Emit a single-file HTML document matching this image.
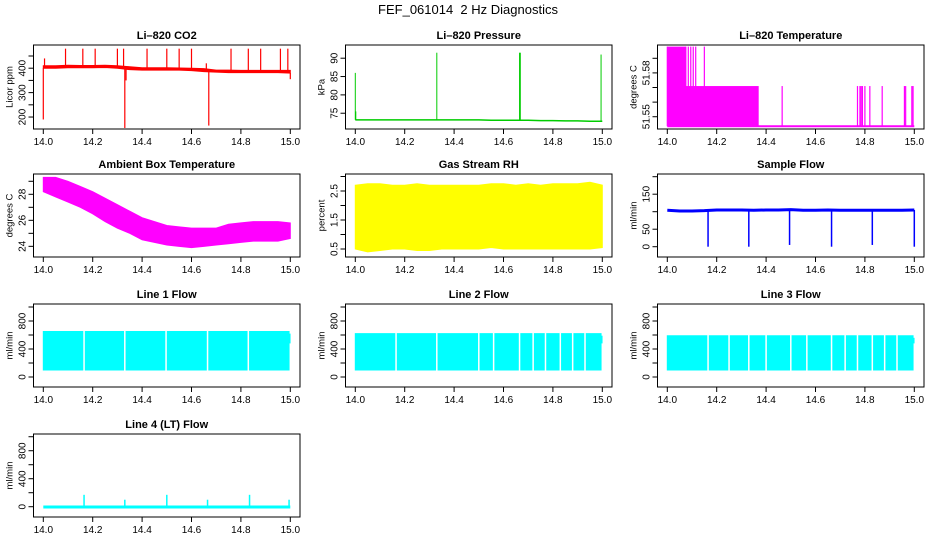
<!DOCTYPE html>
<html><head><meta charset="utf-8"><style>
html,body{margin:0;padding:0;background:#fff;}
svg{display:block;font-family:"Liberation Sans",sans-serif;}
</style></head><body>
<svg id="c" width="936" height="540" viewBox="0 0 936 540">
<text x="468" y="14" text-anchor="middle" font-size="13">FEF_061014&#160; 2 Hz Diagnostics</text>
</svg>
<script>
// ---- shared x data ----
const xTicks=[14.0,14.2,14.4,14.6,14.8,15.0];
const xTickLabels=['14.0','14.2','14.4','14.6','14.8','15.0'];
const envT=[14.0,14.05,14.1,14.15,14.2,14.25,14.3,14.35,14.4,14.45,14.5,14.55,14.6,14.65,14.7,14.75,14.8,14.85,14.9,14.95,15.0];
// ---- CO2 ----
const co2Upper=[410,410,412,411,411,412,410,406,402,402,402,401,400,398,392,392,391,391,391,391,391];
const co2Lower=[400,400,402,402,402,403,400,394,392,392,392,392,390,386,384,382,382,382,382,382,380];
const co2SpikeT=[14.0,14.005,14.09,14.16,14.21,14.3,14.325,14.33,14.335,14.42,14.5,14.55,14.6,14.66,14.67,14.76,14.83,14.88,14.96,14.99,15.0];
const co2SpikeV=[190,440,480,480,480,480,480,155,350,480,480,480,480,420,165,480,480,480,480,480,355];
// ---- Pressure ----
const presLevel=[73.2,73.2,73.2,73.2,73.2,73.2,73.2,73.2,73.2,73.2,73.2,73.1,73.1,73.1,73.1,73.0,73.0,72.9,72.9,72.8,72.8];
const presSpikeT=[14.0,14.002,14.33,14.665,14.668,14.995];
const presSpikeV=[86,75.5,91.5,91.5,91.5,91];
// ---- Li-820 temperature ----
const tempLevels=[51.5435,51.571,51.598];
const tempHiT=[14.0,14.075,14.085,14.095,14.105,14.115,14.15];
const tempMidT=[14.465,14.77,14.78,14.785,14.79,14.8,14.82,14.87,14.96,14.965,14.99,14.995];
const tempBlockStart=14.0, tempBlockEnd=14.37, tempHiEnd=14.075;
// ---- Ambient ----
const ambUpper=[29.3,29.3,29.0,28.6,28.2,27.7,27.2,26.7,26.2,25.9,25.6,25.5,25.4,25.4,25.4,25.7,25.8,25.9,25.9,25.9,25.8];
const ambLower=[28.2,27.8,27.4,27.0,26.5,25.9,25.4,25.0,24.5,24.3,24.1,24.0,23.9,24.0,24.1,24.2,24.3,24.4,24.4,24.4,24.6];
// ---- RH ----
const rhUpper=[2.7,2.75,2.75,2.7,2.7,2.75,2.7,2.7,2.7,2.7,2.7,2.75,2.75,2.7,2.75,2.7,2.75,2.75,2.75,2.8,2.7];
const rhLower=[0.5,0.4,0.45,0.5,0.5,0.45,0.45,0.5,0.5,0.5,0.5,0.55,0.5,0.5,0.5,0.5,0.5,0.5,0.5,0.5,0.55];
// ---- Sample flow ----
const sampleLevel=[104,102,102,103,105,105,105,104,105,105,106,104,104,105,104,104,104,104,104,104,105];
const sampleDropT=[14.165,14.33,14.495,14.665,14.83,15.0];
const sampleDropV=[0,0,5,0,5,0];
// ---- Line flows ----
const line1Upper=650, line1Lower=100, line2Upper=620, line2Lower=100, line3Upper=590, line3Lower=100;
const line1Gaps=[14.165,14.33,14.497,14.665,14.83];
const line2Gaps=[14.165,14.33,14.5,14.56,14.665,14.72,14.77,14.83,14.88,14.93];
const line3Gaps=[14.165,14.25,14.33,14.4,14.5,14.565,14.665,14.72,14.77,14.83,14.88,14.93];
const line4Base=-5;
const line4SpikeT=[14.165,14.33,14.5,14.665,14.835,14.995];
const line4SpikeV=[170,100,170,100,170,100];

const NS='http://www.w3.org/2000/svg';
const svg=document.getElementById('c');
const colL=[33.5,345.5,657.5], boxW=266.5;
const rowTop=[45,174,304,434], rowH=[84,83,83,83];
function el(tag,attrs,parent){const e=document.createElementNS(NS,tag);for(const k in attrs)e.setAttribute(k,attrs[k]);(parent||svg).appendChild(e);return e;}

function panel(id,col,row,title,ylab,dom,ticks,labels){
  const L=colL[col],T=rowTop[row],H=rowH[row],B=T+H;
  const g=el('g',{});
  
  
  const x=t=>L+9.8+(t-14)*247;
  const y=v=>B-(v-dom[0])/(dom[1]-dom[0])*H;
  const cp=el('clipPath',{id:'cp'+id},g);
  el('rect',{x:L,y:T,width:boxW,height:H},cp);
  const plot=el('g',{'clip-path':'url(#cp'+id+')'},g);
  
  
  const box=el('rect',{x:L,y:T,width:boxW,height:H,fill:'none',stroke:'#000','stroke-width':1},g);
  
  
  const tt=el('text',{x:L+boxW/2,y:T-6,'text-anchor':'middle','font-size':11,'font-weight':'bold'},g);
  tt.textContent=title;
  
  
  const yl=el('text',{x:0,y:0,'text-anchor':'middle','font-size':9.5,transform:`translate(${L-21},${T+H/2}) rotate(-90)`},g);
  yl.textContent=ylab;
  
  
  xTicks.forEach((t,i)=>{
    el('line',{x1:x(t),x2:x(t),y1:B,y2:B+5,stroke:'#000'},g);
    const lb=el('text',{x:x(t),y:B+16,'text-anchor':'middle','font-size':10},g);
    lb.textContent=xTickLabels[i];
    
    
  });
  ticks.forEach((v,i)=>{
    el('line',{x1:L-5,x2:L,y1:y(v),y2:y(v),stroke:'#000'},g);
    if(labels[i]){
      const lb=el('text',{x:0,y:0,'text-anchor':'middle','font-size':10,transform:`translate(${L-8},${y(v)}) rotate(-90)`},g);
      lb.textContent=labels[i];
      
      
    }
  });
  return {x,y,plot};
}
function band(p,ts,up,lo,color,name){
  let d='M'+ts.map((t,i)=>p.x(t)+','+p.y(up[i])).join(' L');
  d+=' L'+ts.map((t,i)=>[t,i]).reverse().map(([t,i])=>p.x(t)+','+p.y(lo[i])).join(' L')+'Z';
  const e=el('path',{d,fill:color,stroke:color,'stroke-width':1},p.plot);
  
  
}
function vline(p,t,v1,v2,color,name,w){
  const e=el('line',{x1:p.x(t),x2:p.x(t),y1:p.y(v1),y2:p.y(v2),stroke:color,'stroke-width':w||1.2},p.plot);
  
  
}
function levelLine(p,ts,vs,color,name,w){
  const e=el('polyline',{points:ts.map((t,i)=>p.x(t)+','+p.y(vs[i])).join(' '),fill:'none',stroke:color,'stroke-width':w||1.5},p.plot);
  
  
}
function interp(ts,vs,t){for(let i=0;i<ts.length-1;i++){if(t<=ts[i+1]){const f=(t-ts[i])/(ts[i+1]-ts[i]);return vs[i]+f*(vs[i+1]-vs[i]);}}return vs[vs.length-1];}

let p=panel('co2',0,0,'Li\u2013820 CO2','Licor ppm',[151,495],[200,250,300,350,400,450],['200','','300','','400','']);
band(p,envT,co2Upper,co2Lower,'#ff0000','co2-series');
co2SpikeT.forEach((t,i)=>vline(p,t,interp(envT,co2Lower,t),co2SpikeV[i],'#ff0000','co2-spike'));

p=panel('pressure',1,0,'Li\u2013820 Pressure','kPa',[70.7,93.6],[75,80,85,90],['75','80','85','90']);
levelLine(p,envT,presLevel,'#00cc00','pressure-series',1.5);
presSpikeT.forEach((t,i)=>vline(p,t,interp(envT,presLevel,t),presSpikeV[i],'#00cc00','pressure-spike',1));

p=panel('li820temp',2,0,'Li\u2013820 Temperature','degrees C',[51.5416,51.5991],[51.55,51.56,51.57,51.58,51.59],['51.55','','','51.58','']);
levelLine(p,[14.0,15.0],[tempLevels[0],tempLevels[0]],'#ff00ff','temperature-baseline',2);
(function(){const r=el('rect',{x:p.x(tempBlockStart),y:p.y(tempLevels[1]),width:p.x(tempBlockEnd)-p.x(tempBlockStart),height:p.y(tempLevels[0])-p.y(tempLevels[1]),fill:'#ff00ff'},p.plot);


const r2=el('rect',{x:p.x(tempBlockStart),y:p.y(tempLevels[2]),width:p.x(tempHiEnd)-p.x(tempBlockStart),height:p.y(tempLevels[0])-p.y(tempLevels[2]),fill:'#ff00ff'},p.plot);

})();
tempHiT.forEach(t=>vline(p,t,tempLevels[0],tempLevels[2],'#ff00ff','temperature-high-spike'));
tempMidT.forEach(t=>vline(p,t,tempLevels[0],tempLevels[1],'#ff00ff','temperature-mid-spike'));

p=panel('ambient',0,1,'Ambient Box Temperature','degrees C',[23.18,29.56],[24,25,26,27,28,29],['24','','26','','28','']);
band(p,envT,ambUpper,ambLower,'#ff00ff','ambient-series');

p=panel('rh',1,1,'Gas Stream RH','percent',[0.224,3.086],[0.5,1,1.5,2,2.5,3],['0.5','','1.5','','2.5','']);
band(p,envT,rhUpper,rhLower,'#ffff00','rh-series');

p=panel('sample',2,1,'Sample Flow','ml/min',[-29.4,207.7],[0,50,100,150,200],['0','50','','150','']);
levelLine(p,envT,sampleLevel,'#0000ff','sample-flow-series',3);
sampleDropT.forEach((t,i)=>vline(p,t,interp(envT,sampleLevel,t),sampleDropV[i],'#0000ff','sample-flow-drop',1.5));

const flowTicks=[0,200,400,600,800,1000], flowLabels=['0','','400','','800',''];
function flowPanel(id,col,title,up,lo,gaps){
  const q=panel(id,col,2,title,'ml/min',[-143,1043],flowTicks,flowLabels);
  band(q,[14.0,14.995],[up,up],[lo,lo],'#00ffff',id+'-series');
  vline(q,14.998,480,up-30,'#00ffff',id+'-end',1.5);
  gaps.forEach(t=>vline(q,t,lo-20,up+20,'#ffffff',id+'-gap',1.5));
}
flowPanel('line1',0,'Line 1 Flow',line1Upper,line1Lower,line1Gaps);
flowPanel('line2',1,'Line 2 Flow',line2Upper,line2Lower,line2Gaps);
flowPanel('line3',2,'Line 3 Flow',line3Upper,line3Lower,line3Gaps);

p=panel('line4',0,3,'Line 4 (LT) Flow','ml/min',[-147,1039],flowTicks,flowLabels);
levelLine(p,[14.0,15.0],[line4Base,line4Base],'#00ffff','line4-series',3);
line4SpikeT.forEach((t,i)=>vline(p,t,line4Base,line4SpikeV[i],'#00ffff','line4-spike',1.5));
</script>
</body></html>
